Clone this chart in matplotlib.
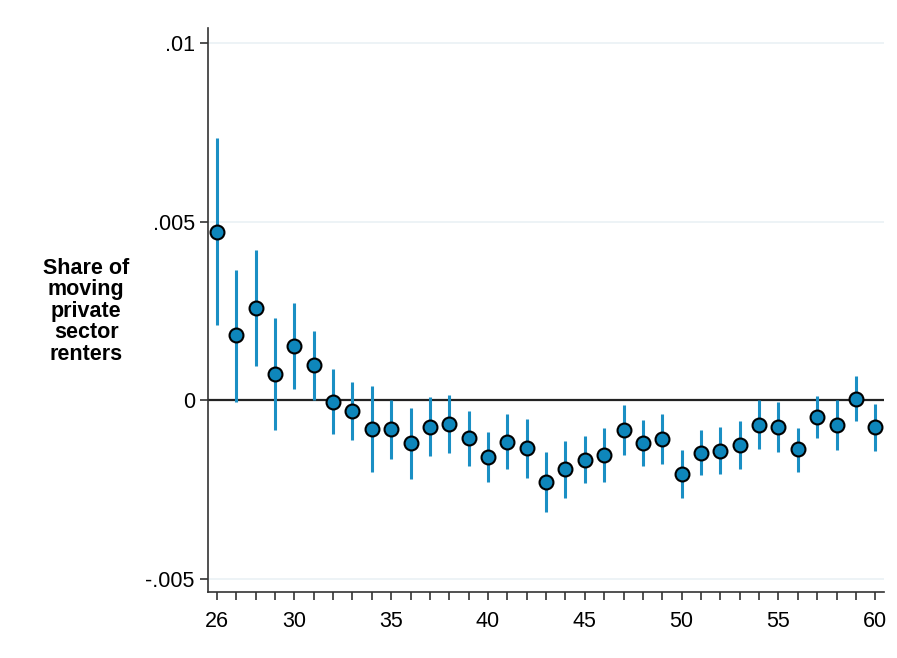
import matplotlib.pyplot as plt

plt.rcParams['font.family'] = ['Liberation Sans', 'DejaVu Sans']

# event-time age and estimates
ages = list(range(26, 61))
coef = [4.72, 1.82, 2.58, 0.74, 1.53, 0.98, -0.03, -0.29, -0.80, -0.81,
        -1.20, -0.73, -0.66, -1.06, -1.57, -1.15, -1.34, -2.27, -1.93, -1.67,
        -1.53, -0.83, -1.18, -1.07, -2.05, -1.46, -1.41, -1.24, -0.69, -0.75,
        -1.37, -0.46, -0.68, 0.04, -0.75]
ci_hi = [7.34, 3.66, 4.21, 2.32, 2.72, 1.93, 0.87, 0.51, 0.41, 0.01,
         -0.22, 0.09, 0.15, -0.30, -0.87, -0.38, -0.52, -1.44, -1.13, -0.99,
         -0.78, -0.13, -0.56, -0.38, -1.39, -0.83, -0.73, -0.57, 0.01, -0.03,
         -0.76, 0.13, 0.01, 0.67, -0.11]
ci_lo = [2.10, -0.03, 0.95, -0.83, 0.33, 0.01, -0.95, -1.11, -1.99, -1.64,
         -2.21, -1.55, -1.48, -1.83, -2.27, -1.93, -2.16, -3.11, -2.72, -2.32,
         -2.29, -1.54, -1.84, -1.77, -2.72, -2.10, -2.07, -1.91, -1.37, -1.45,
         -1.99, -1.06, -1.39, -0.58, -1.41]
scale = 1e-3
coef = [c * scale for c in coef]
ci_hi = [c * scale for c in ci_hi]
ci_lo = [c * scale for c in ci_lo]

y_ticks = [-0.005, 0, 0.005, 0.01]
y_labels = ['-.005', '0', '.005', '.01']
x_labels = [26, 30, 35, 40, 45, 50, 55, 60]

fig = plt.figure(figsize=(8.97, 6.58), dpi=100)
ax = fig.add_axes([0.2319, 0.1003, 0.7536, 0.8571])

for y in y_ticks:
    if y != 0:
        ax.axhline(y, color='#eaf1f5', lw=1.2, zorder=0)
ax.axhline(0, color='#222222', lw=1.6, zorder=1)

ax.vlines(ages, ci_lo, ci_hi, color='#1a8fc4', lw=2.2, zorder=2)
ax.plot(ages, coef, 'o', ms=10, mfc='#0e86bb', mec='black', mew=1.5, zorder=3)

ax.set_xlim(25.54, 60.45)
ax.set_ylim(-0.00536, 0.01042)
ax.set_yticks(y_ticks)
ax.set_yticklabels(y_labels)
ax.set_xticks(ages, minor=True)
ax.set_xticks(x_labels)
ax.set_xticklabels([str(v) for v in x_labels])
ax.tick_params(axis='both', which='both', direction='out', length=6,
               width=1.2, color='#333333', labelsize=15.5)
ax.tick_params(axis='x', which='major', pad=8)

for s in ['top', 'right']:
    ax.spines[s].set_visible(False)
for s in ['left', 'bottom']:
    ax.spines[s].set_color('#333333')
    ax.spines[s].set_linewidth(1.2)

fig.text(0.0959, 0.527, 'Share of\nmoving\nprivate\nsector\nrenters',
         ha='center', va='center', fontsize=15.5, fontweight='bold',
         linespacing=1.03)

fig.savefig('out.png', dpi=100)
